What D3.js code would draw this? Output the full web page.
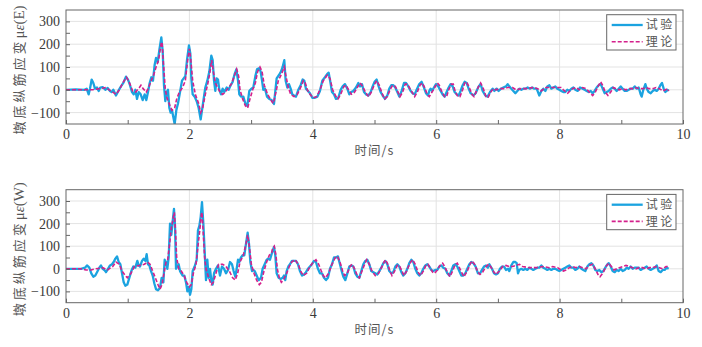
<!DOCTYPE html>
<html>
<head>
<meta charset="utf-8">
<script src="https://cdn.jsdelivr.net/npm/d3@7/dist/d3.min.js"></script>
<style>
  html, body { margin: 0; padding: 0; background: #fff; }
  svg { display: block; }
  .tick text { font-family: "Liberation Serif", "Times New Roman", serif; font-size: 14px; fill: #3a3a3a; }
</style>
</head>
<body>
<svg id="chart" width="702" height="347"></svg>
<script>
// Axis settings
const xDomain = [0, 10];
const yDomain = [-150, 350];
const xTickValues = [0, 1, 2, 3, 4, 5, 6, 7, 8, 9, 10];
const yTickValues = [-100, -50, 0, 50, 100, 150, 200, 250, 300];
const xGridValues = [2, 4, 6, 8];
const yGridValues = [-100, 0, 100, 200, 300];
const seriesNames = ["试验", "理论"];
const panelTags = ["E", "W"];
const xTitle = "时间/s";
const yTitle = "墩底纵筋应变";

// East side: measured strain [time s, με]
const expE = [[0,0],[0.16,2],[0.3,0],[0.335,5],[0.367,-20],[0.389,5],[0.416,45],[0.443,30],[0.47,5],[0.502,10],[0.53,-5],[0.556,10],[0.594,12],[0.637,0],[0.675,8],[0.713,-5],[0.74,-10],[0.767,0],[0.81,-25],[0.848,-5],[0.891,15],[0.929,30],[0.972,58],[1.005,45],[1.037,20],[1.07,-10],[1.097,-20],[1.124,0],[1.151,-40],[1.178,-10],[1.21,-20],[1.243,-45],[1.275,-20],[1.302,-45],[1.329,-10],[1.356,30],[1.383,55],[1.41,40],[1.437,110],[1.459,140],[1.486,120],[1.513,175],[1.545,230],[1.567,170],[1.588,20],[1.61,-50],[1.632,-10],[1.653,0],[1.675,-80],[1.696,-100],[1.718,-90],[1.74,-120],[1.761,-150],[1.788,-90],[1.815,-60],[1.848,-10],[1.88,40],[1.907,50],[1.934,60],[1.961,130],[1.993,195],[2.015,160],[2.031,50],[2.053,-20],[2.085,-30],[2.118,-50],[2.15,-80],[2.183,-130],[2.204,-90],[2.231,-40],[2.258,10],[2.291,40],[2.323,80],[2.355,150],[2.377,130],[2.399,40],[2.42,-5],[2.442,50],[2.464,45],[2.485,0],[2.512,-20],[2.539,5],[2.566,-10],[2.604,10],[2.636,0],[2.669,20],[2.701,35],[2.734,70],[2.761,90],[2.788,40],[2.809,-20],[2.836,-30],[2.874,-30],[2.907,-60],[2.939,-70],[2.971,-5],[3.004,5],[3.036,10],[3.069,60],[3.096,90],[3.128,95],[3.155,80],[3.177,40],[3.198,0],[3.225,5],[3.258,-30],[3.295,-40],[3.333,-45],[3.371,-62],[3.414,50],[3.452,65],[3.484,80],[3.511,100],[3.538,130],[3.56,40],[3.587,10],[3.614,25],[3.641,5],[3.668,-20],[3.695,-25],[3.727,-30],[3.765,0],[3.803,20],[3.835,45],[3.862,40],[3.889,5],[3.922,-5],[3.954,-15],[3.992,-35],[4.035,-35],[4.073,-30],[4.116,-5],[4.154,40],[4.197,55],[4.235,70],[4.257,75],[4.284,35],[4.311,-10],[4.343,-20],[4.376,-40],[4.414,-35],[4.451,0],[4.484,15],[4.521,25],[4.559,5],[4.592,-20],[4.624,-10],[4.657,-5],[4.7,10],[4.738,30],[4.765,15],[4.797,25],[4.83,-10],[4.862,-20],[4.9,-25],[4.938,-10],[4.97,15],[5.002,35],[5.035,45],[5.067,15],[5.1,-10],[5.132,-25],[5.17,-40],[5.208,-25],[5.24,5],[5.272,20],[5.305,20],[5.337,10],[5.37,-10],[5.402,-30],[5.44,-5],[5.478,30],[5.51,30],[5.548,15],[5.586,-5],[5.618,-15],[5.651,-20],[5.683,0],[5.726,25],[5.764,35],[5.802,10],[5.834,-15],[5.867,-25],[5.888,-5],[5.91,5],[5.932,-5],[5.964,10],[5.996,25],[6.034,15],[6.072,-5],[6.104,-20],[6.137,-30],[6.169,-10],[6.202,10],[6.234,25],[6.267,15],[6.299,-10],[6.331,-20],[6.364,-25],[6.396,-5],[6.429,20],[6.461,35],[6.493,30],[6.526,5],[6.558,-15],[6.601,-25],[6.639,-15],[6.688,15],[6.72,25],[6.753,-5],[6.796,-25],[6.834,-30],[6.872,-10],[6.915,5],[6.942,-5],[6.98,5],[7.012,-5],[7.05,5],[7.088,10],[7.131,15],[7.158,25],[7.185,15],[7.218,5],[7.25,-5],[7.283,-15],[7.315,-5],[7.347,5],[7.38,0],[7.412,5],[7.445,5],[7.482,10],[7.52,5],[7.553,10],[7.59,5],[7.628,5],[7.65,-10],[7.671,-25],[7.704,-5],[7.736,5],[7.769,-5],[7.801,15],[7.834,20],[7.866,5],[7.898,10],[7.931,15],[7.963,5],[7.996,0],[8.028,-5],[8.061,-10],[8.093,-10],[8.125,0],[8.158,-5],[8.19,5],[8.223,10],[8.255,0],[8.293,-5],[8.331,10],[8.374,5],[8.406,0],[8.439,-5],[8.471,-10],[8.504,-5],[8.536,-15],[8.568,-5],[8.601,10],[8.633,20],[8.666,25],[8.698,5],[8.731,-15],[8.763,-10],[8.795,-5],[8.828,5],[8.86,10],[8.893,5],[8.925,-5],[8.958,5],[8.99,15],[9.022,5],[9.055,-5],[9.087,-5],[9.12,0],[9.152,5],[9.185,5],[9.217,15],[9.25,5],[9.282,10],[9.314,-20],[9.33,-30],[9.357,0],[9.39,25],[9.412,5],[9.444,-10],[9.476,-15],[9.509,-5],[9.541,0],[9.574,-5],[9.606,5],[9.633,20],[9.66,30],[9.687,5],[9.714,-10],[9.746,0],[9.768,-5]];

// East side: computed strain
const theoE = [[0,0],[0.43,0],[0.54,5],[0.65,10],[0.7,0],[0.81,-20],[0.865,0],[0.92,30],[0.98,55],[1.03,30],[1.08,-5],[1.13,-10],[1.19,10],[1.215,20],[1.25,5],[1.3,-10],[1.34,10],[1.38,40],[1.415,60],[1.46,100],[1.5,130],[1.54,200],[1.556,210],[1.578,120],[1.61,0],[1.642,-40],[1.686,-70],[1.718,-90],[1.761,-80],[1.794,-40],[1.837,-10],[1.89,10],[1.934,40],[1.972,130],[1.999,180],[2.02,140],[2.053,40],[2.096,-20],[2.15,-60],[2.183,-100],[2.215,-80],[2.258,-20],[2.301,30],[2.334,80],[2.361,130],[2.388,80],[2.42,30],[2.458,10],[2.496,-10],[2.539,-20],[2.582,-10],[2.636,10],[2.68,25],[2.728,60],[2.766,90],[2.798,60],[2.82,0],[2.863,-40],[2.907,-70],[2.944,-80],[2.982,-40],[3.025,0],[3.069,30],[3.106,80],[3.144,100],[3.177,80],[3.214,20],[3.268,-20],[3.333,-50],[3.36,-60],[3.403,-10],[3.441,40],[3.495,70],[3.538,100],[3.565,60],[3.603,10],[3.641,-20],[3.695,-30],[3.749,-20],[3.803,10],[3.846,40],[3.878,30],[3.911,0],[3.954,-20],[4.008,-35],[4.062,-30],[4.116,0],[4.17,40],[4.235,65],[4.278,50],[4.322,0],[4.376,-30],[4.408,-40],[4.451,-20],[4.505,15],[4.538,20],[4.581,0],[4.624,-20],[4.667,-15],[4.721,10],[4.765,30],[4.808,15],[4.862,-15],[4.905,-30],[4.948,-10],[5.002,25],[5.035,40],[5.078,20],[5.121,-15],[5.164,-40],[5.208,-30],[5.251,0],[5.294,20],[5.337,15],[5.38,-10],[5.413,-30],[5.456,-10],[5.499,25],[5.532,25],[5.564,10],[5.618,-15],[5.651,-30],[5.694,-10],[5.737,20],[5.775,30],[5.813,10],[5.856,-20],[5.888,-30],[5.932,-10],[5.975,10],[6.018,30],[6.05,20],[6.093,-10],[6.137,-30],[6.169,-30],[6.202,0],[6.245,25],[6.277,25],[6.31,-10],[6.353,-30],[6.385,-30],[6.429,0],[6.461,30],[6.493,35],[6.536,10],[6.58,-20],[6.612,-30],[6.645,-10],[6.688,15],[6.72,30],[6.764,5],[6.807,-30],[6.839,-35],[6.883,-10],[6.926,5],[6.969,0],[7.034,5],[7.104,5],[7.158,10],[7.239,10],[7.293,0],[7.374,5],[7.455,5],[7.563,10],[7.644,5],[7.698,-5],[7.779,10],[7.86,10],[7.941,10],[8.023,10],[8.061,0],[8.104,-10],[8.131,-15],[8.168,-5],[8.212,5],[8.266,10],[8.32,0],[8.374,10],[8.428,5],[8.482,-10],[8.536,-25],[8.579,-10],[8.622,15],[8.666,35],[8.698,20],[8.741,-10],[8.784,-25],[8.828,-10],[8.871,10],[8.914,5],[8.968,0],[9.022,5],[9.076,0],[9.13,5],[9.184,5],[9.227,10],[9.292,5],[9.346,5],[9.4,10],[9.454,5],[9.509,5],[9.563,10],[9.617,5],[9.671,-5],[9.714,0],[9.752,5],[9.768,-5]];

// West side: measured strain
const expW = [[0,0],[0.243,0],[0.27,2],[0.308,5],[0.34,15],[0.378,5],[0.41,-20],[0.443,-35],[0.475,-30],[0.513,-10],[0.54,5],[0.567,15],[0.594,0],[0.621,-5],[0.648,-15],[0.681,0],[0.713,15],[0.746,20],[0.773,30],[0.8,45],[0.827,55],[0.854,30],[0.881,20],[0.908,-20],[0.935,-60],[0.962,-75],[0.994,-70],[1.026,-40],[1.059,-10],[1.091,10],[1.124,5],[1.156,35],[1.178,15],[1.199,10],[1.232,35],[1.259,45],[1.286,35],[1.307,65],[1.329,20],[1.351,15],[1.378,-10],[1.405,-30],[1.432,-65],[1.459,-90],[1.491,-95],[1.523,-85],[1.55,-40],[1.578,-60],[1.599,40],[1.621,30],[1.642,0],[1.664,50],[1.686,200],[1.707,150],[1.729,210],[1.75,265],[1.767,190],[1.783,0],[1.804,10],[1.826,20],[1.848,-10],[1.869,-20],[1.891,-30],[1.918,-30],[1.945,-60],[1.967,-100],[1.988,-80],[2.01,-115],[2.031,-90],[2.053,-10],[2.085,10],[2.118,40],[2.139,170],[2.161,190],[2.183,230],[2.204,295],[2.226,200],[2.247,80],[2.269,-50],[2.291,40],[2.312,-40],[2.334,0],[2.355,-50],[2.377,-70],[2.399,-20],[2.431,0],[2.464,15],[2.496,-30],[2.528,10],[2.561,0],[2.593,-20],[2.626,-5],[2.658,30],[2.69,20],[2.717,-10],[2.744,-35],[2.766,0],[2.788,40],[2.809,30],[2.836,50],[2.863,60],[2.89,60],[2.917,110],[2.944,160],[2.966,110],[2.988,30],[3.015,-10],[3.036,-5],[3.058,-10],[3.09,-30],[3.123,-50],[3.16,-40],[3.187,0],[3.22,20],[3.252,40],[3.274,45],[3.306,40],[3.338,70],[3.371,97],[3.392,60],[3.414,-20],[3.446,-40],[3.479,-45],[3.511,-40],[3.533,-30],[3.554,-50],[3.576,-10],[3.603,10],[3.63,20],[3.662,35],[3.695,35],[3.727,35],[3.76,20],[3.792,-10],[3.825,-30],[3.857,-25],[3.889,-15],[3.922,0],[3.954,10],[3.986,20],[4.019,35],[4.051,30],[4.084,0],[4.116,-20],[4.149,-20],[4.181,-40],[4.214,-50],[4.246,-40],[4.278,0],[4.311,20],[4.343,50],[4.376,50],[4.408,55],[4.44,20],[4.473,-15],[4.495,-35],[4.527,-50],[4.56,-20],[4.592,10],[4.624,15],[4.657,10],[4.689,-20],[4.722,-35],[4.754,-40],[4.786,-10],[4.819,20],[4.851,35],[4.883,40],[4.916,20],[4.948,-10],[4.981,-15],[5.013,-20],[5.046,-25],[5.078,-10],[5.11,5],[5.143,25],[5.175,35],[5.208,20],[5.24,-10],[5.272,-20],[5.305,-15],[5.337,10],[5.37,20],[5.402,10],[5.435,-15],[5.467,-30],[5.5,-20],[5.532,0],[5.564,25],[5.597,40],[5.629,30],[5.662,0],[5.694,-20],[5.726,-30],[5.759,-20],[5.791,0],[5.824,15],[5.856,20],[5.888,10],[5.921,-5],[5.953,-10],[5.986,-5],[6.018,-5],[6.05,10],[6.083,15],[6.115,5],[6.148,0],[6.18,-20],[6.213,-30],[6.245,-10],[6.277,15],[6.31,20],[6.342,10],[6.374,-10],[6.407,-30],[6.44,-30],[6.472,-20],[6.504,0],[6.537,20],[6.569,30],[6.602,25],[6.639,10],[6.677,-20],[6.71,-20],[6.742,-5],[6.775,10],[6.807,15],[6.839,5],[6.862,20],[6.904,0],[6.937,-20],[6.969,-25],[7.002,-20],[7.034,0],[7.066,10],[7.099,10],[7.131,-5],[7.164,0],[7.185,-10],[7.218,15],[7.25,30],[7.283,30],[7.304,25],[7.326,-20],[7.347,-5],[7.38,0],[7.412,-5],[7.445,0],[7.477,-5],[7.509,5],[7.542,0],[7.574,-5],[7.607,0],[7.639,5],[7.671,5],[7.704,15],[7.736,5],[7.769,0],[7.801,-5],[7.834,0],[7.866,-5],[7.898,0],[7.931,0],[7.963,-5],[7.996,-10],[8.028,-5],[8.061,0],[8.093,5],[8.125,10],[8.158,15],[8.19,5],[8.223,5],[8.255,-5],[8.288,0],[8.32,10],[8.353,0],[8.385,-5],[8.417,-10],[8.45,10],[8.482,20],[8.515,25],[8.547,15],[8.579,-5],[8.612,-10],[8.644,-5],[8.677,-15],[8.709,-10],[8.741,5],[8.774,20],[8.796,25],[8.828,10],[8.86,-10],[8.893,-15],[8.925,-5],[8.958,-10],[8.99,0],[9.022,-10],[9.055,-5],[9.087,5],[9.119,0],[9.152,10],[9.184,0],[9.217,5],[9.249,5],[9.282,5],[9.314,-5],[9.346,0],[9.379,5],[9.411,10],[9.444,0],[9.476,-5],[9.509,0],[9.541,5],[9.574,15],[9.606,-10],[9.638,-15],[9.671,-5],[9.703,-5],[9.736,5],[9.768,0]];

// West side: computed strain
const theoW = [[0,0],[0.243,0],[0.324,-5],[0.405,-5],[0.486,0],[0.594,5],[0.675,-5],[0.756,10],[0.81,30],[0.864,20],[0.908,-10],[0.962,-30],[0.994,-40],[1.053,-20],[1.108,10],[1.189,15],[1.27,20],[1.324,30],[1.361,20],[1.405,-10],[1.448,-40],[1.491,-70],[1.523,-90],[1.556,-70],[1.588,-20],[1.621,30],[1.648,40],[1.675,100],[1.707,180],[1.74,230],[1.756,250],[1.772,180],[1.794,50],[1.826,0],[1.869,-10],[1.913,-30],[1.956,-60],[1.999,-80],[2.031,-70],[2.064,-20],[2.107,20],[2.139,100],[2.172,180],[2.193,240],[2.204,250],[2.226,150],[2.247,50],[2.269,0],[2.312,-40],[2.355,-70],[2.388,-60],[2.431,-20],[2.474,20],[2.539,20],[2.593,10],[2.647,-10],[2.701,-40],[2.744,-50],[2.782,-20],[2.82,30],[2.874,60],[2.917,110],[2.944,150],[2.971,100],[3.004,20],[3.047,-20],[3.09,-50],[3.133,-70],[3.166,-60],[3.209,-10],[3.252,30],[3.295,60],[3.333,70],[3.349,90],[3.376,100],[3.403,60],[3.425,0],[3.457,-40],[3.49,-60],[3.522,-50],[3.576,-20],[3.619,10],[3.657,30],[3.711,40],[3.765,20],[3.803,-10],[3.846,-30],[3.9,-20],[3.954,10],[4.008,30],[4.051,40],[4.095,20],[4.138,-10],[4.17,-30],[4.203,-40],[4.257,-20],[4.311,20],[4.365,50],[4.397,55],[4.441,30],[4.484,-10],[4.516,-30],[4.559,-20],[4.603,10],[4.635,20],[4.678,0],[4.721,-30],[4.754,-40],[4.797,-10],[4.84,20],[4.873,40],[4.916,20],[4.959,-10],[5.013,-30],[5.067,-20],[5.121,10],[5.175,40],[5.208,25],[5.251,-10],[5.283,-30],[5.326,-10],[5.37,15],[5.402,15],[5.445,-10],[5.478,-30],[5.521,-10],[5.575,25],[5.618,40],[5.661,20],[5.705,-15],[5.748,-30],[5.791,-10],[5.834,15],[5.867,20],[5.899,5],[5.942,-15],[5.975,-20],[6.018,-5],[6.061,15],[6.104,25],[6.137,10],[6.18,-15],[6.223,-35],[6.266,-10],[6.31,20],[6.342,25],[6.385,0],[6.428,-25],[6.45,-35],[6.504,-10],[6.547,20],[6.58,35],[6.623,20],[6.645,5],[6.677,-15],[6.71,-25],[6.753,-15],[6.807,10],[6.85,20],[6.894,5],[6.937,-15],[6.969,-25],[7.023,-10],[7.077,10],[7.131,15],[7.185,10],[7.239,10],[7.293,15],[7.347,20],[7.401,10],[7.509,5],[7.617,5],[7.725,10],[7.834,5],[7.888,10],[7.969,5],[8.023,-5],[8.061,-10],[8.104,-5],[8.158,5],[8.212,10],[8.266,5],[8.32,10],[8.374,5],[8.428,0],[8.482,15],[8.536,20],[8.579,0],[8.622,-25],[8.655,-35],[8.698,-20],[8.752,10],[8.796,25],[8.839,10],[8.882,-5],[8.925,0],[8.968,5],[9.022,10],[9.076,15],[9.13,10],[9.184,5],[9.238,0],[9.292,5],[9.346,5],[9.4,0],[9.454,5],[9.509,5],[9.563,10],[9.617,5],[9.671,0],[9.725,10],[9.768,10]];

const colors = { exp: "#1ba3e0", theo: "#d4208c" };

const svg = d3.select("#chart");
svg.append("rect").attr("width", 702).attr("height", 347).attr("fill", "#fff");

const panels = [
  { tag: panelTags[0], exp: expE, theo: theoE, top: 10, bottom: 124 },
  { tag: panelTags[1], exp: expW, theo: theoW, top: 189.7, bottom: 302.7 }
];

const left = 66, right = 683;

panels.forEach((p) => {
  const g = svg.append("g").attr("class", "panel-" + p.tag);
  const x = d3.scaleLinear().domain(xDomain).range([left, right]);
  const y = d3.scaleLinear().domain(yDomain).range([p.bottom, p.top]);

  // grid lines
  g.append("g").selectAll("line").data(xGridValues).join("line")
    .attr("x1", d => x(d)).attr("x2", d => x(d))
    .attr("y1", p.top).attr("y2", p.bottom)
    .attr("stroke", "#e3e3e3").attr("stroke-width", 1);
  g.append("g").selectAll("line").data(yGridValues).join("line")
    .attr("x1", left).attr("x2", right)
    .attr("y1", d => y(d)).attr("y2", d => y(d))
    .attr("stroke", "#e3e3e3").attr("stroke-width", 1);

  // clip to plot area
  const clipId = "clip-" + p.tag;
  g.append("clipPath").attr("id", clipId).append("rect")
    .attr("x", left).attr("y", p.top).attr("width", right - left).attr("height", p.bottom - p.top);

  const line = d3.line().x(d => x(d[0])).y(d => y(d[1]));

  const plot = g.append("g").attr("clip-path", `url(#${clipId})`);
  plot.append("path").datum(p.exp)
    .attr("d", line).attr("fill", "none")
    .attr("stroke", colors.exp).attr("stroke-width", 2.3)
    .attr("stroke-linejoin", "round");
  plot.append("path").datum(p.theo)
    .attr("d", line).attr("fill", "none")
    .attr("stroke", colors.theo).attr("stroke-width", 1.6)
    .attr("stroke-dasharray", "4,2");

  // axes with inward ticks
  const xAxis = d3.axisBottom(x).tickValues(xTickValues)
    .tickSize(-4).tickPadding(5)
    .tickFormat(d => d % 2 === 0 ? d : "");
  const gx = g.append("g").attr("transform", `translate(0,${p.bottom})`).call(xAxis);
  gx.select(".domain").remove();
  gx.selectAll(".tick line").attr("stroke", "#666");

  const yAxis = d3.axisLeft(y).tickValues(yTickValues)
    .tickSize(-4).tickPadding(6)
    .tickFormat(d => d % 100 === 0 ? d3.format("d")(d) : "");
  const gy = g.append("g").attr("transform", `translate(${left},0)`).call(yAxis);
  gy.select(".domain").remove();
  gy.selectAll(".tick line").attr("stroke", "#666");

  // frame
  g.append("rect")
    .attr("x", left).attr("y", p.top)
    .attr("width", right - left).attr("height", p.bottom - p.top)
    .attr("fill", "none").attr("stroke", "#666").attr("stroke-width", 1);

  // x title
  g.append("text")
    .attr("x", x(5)).attr("y", p.bottom + 31)
    .attr("text-anchor", "middle")
    .attr("font-family", "'Noto Sans CJK SC', sans-serif")
    .attr("font-size", 12.5).attr("letter-spacing", 1).attr("fill", "#555")
    .text(xTitle);

  // y title
  const cy = (p.top + p.bottom) / 2 + 3;
  const yt = g.append("text")
    .attr("transform", `translate(24,${cy}) rotate(-90)`)
    .attr("text-anchor", "middle")
    .attr("fill", "#555")
    .attr("font-size", 13);
  yt.append("tspan")
    .attr("font-family", "'Noto Sans CJK SC', sans-serif")
    .attr("letter-spacing", 3)
    .text(yTitle);
  yt.append("tspan")
    .attr("font-family", "'Liberation Serif', serif")
    .attr("font-size", 15)
    .text("μ");
  yt.append("tspan")
    .attr("font-family", "'Liberation Serif', serif")
    .attr("font-style", "italic")
    .attr("font-size", 15)
    .text("ε");
  yt.append("tspan")
    .attr("font-family", "'Liberation Serif', serif")
    .attr("font-size", 15)
    .text("(" + p.tag + ")");

  // legend
  const lx = 606.7, ly = p.top + 4.7;
  const lg = g.append("g");
  lg.append("rect").attr("x", lx).attr("y", ly).attr("width", 69.3).attr("height", 35.3)
    .attr("fill", "#fff").attr("stroke", "#666").attr("stroke-width", 1);
  const items = [
    { name: seriesNames[0], color: colors.exp, w: 2.3, dash: null },
    { name: seriesNames[1], color: colors.theo, w: 1.6, dash: "4,2" }
  ];
  items.forEach((it, k) => {
    const yy = ly + 10.3 + k * 16.7;
    lg.append("line").attr("x1", lx + 5).attr("x2", lx + 36)
      .attr("y1", yy).attr("y2", yy)
      .attr("stroke", it.color).attr("stroke-width", it.w)
      .attr("stroke-dasharray", it.dash);
    lg.append("text").attr("x", lx + 39).attr("y", yy).attr("dy", "0.36em")
      .attr("font-family", "'Noto Sans CJK SC', sans-serif")
      .attr("font-size", 12).attr("letter-spacing", 2.5).attr("fill", "#555")
      .text(it.name);
  });
});
</script>
</body>
</html>
